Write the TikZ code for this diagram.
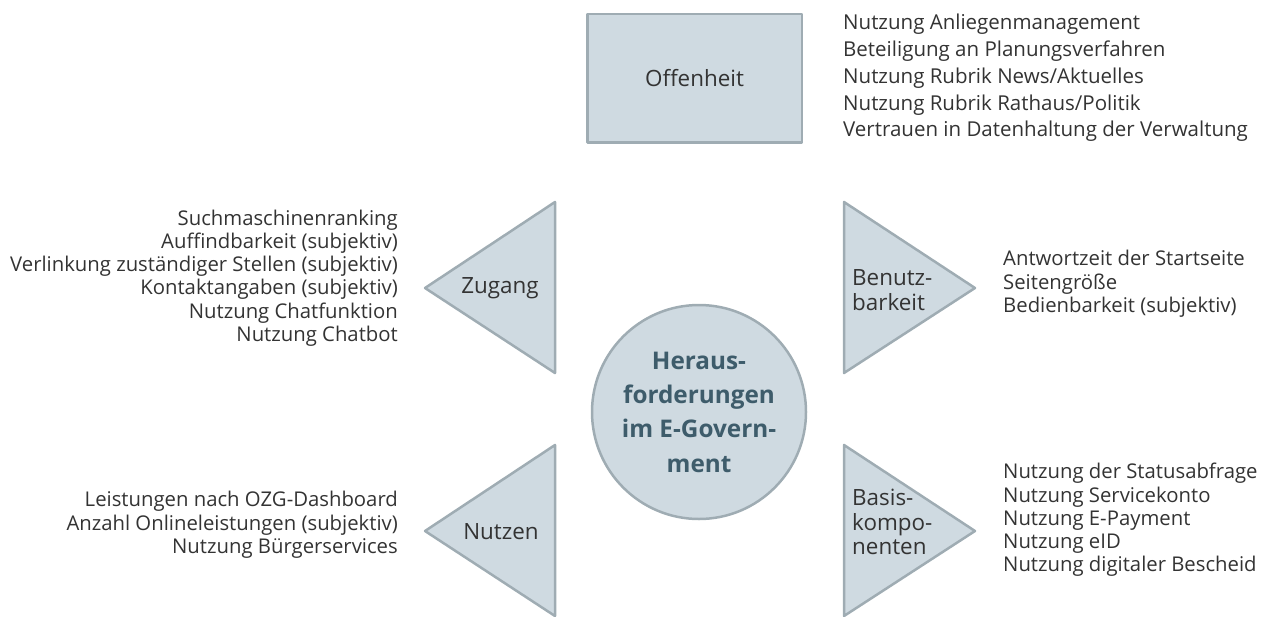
\documentclass[tikz,border=0pt]{standalone}
\usepackage{fontspec}
\setmainfont{Open Sans}
\usepackage{xcolor}
\usetikzlibrary{positioning}
\definecolor{boxfill}{HTML}{CFDAE1}
\definecolor{boxline}{HTML}{9FACB3}
\definecolor{titletext}{HTML}{3E5C6B}
\definecolor{listtext}{HTML}{333333}

\begin{document}
\begin{tikzpicture}[x=1pt, y=-1pt,
    shapebox/.style={fill=boxfill, draw=boxline, line width=2.5pt, line join=round},
    topic/.style={font=\fontsize{22.4}{24.5}\selectfont, text=listtext, inner sep=0pt},
    items/.style={font=\fontsize{20.3}{23.3}\selectfont, text=listtext, inner sep=0pt},
    bigitems/.style={font=\fontsize{20.5}{26.7}\selectfont, text=listtext, inner sep=0pt}]
    \useasboundingbox (0,0) rectangle (1269,616);

    \node (challenge) [shapebox, circle, minimum size=214pt, inner sep=0pt, align=center, text=titletext, font=\fontsize{24.3}{34.3}\selectfont\bfseries] at (699,412) {Heraus-\\forderungen\\im E-Govern-\\ment};
    \node (offen) [shapebox, rectangle, minimum width=214.5pt, minimum height=128.5pt, topic] at (694.5,78) {Offenheit};
    \node (offenlist) [bigitems, align=left, right=40pt of offen] {Nutzung Anliegenmanagement\\Beteiligung an Planungsverfahren\\Nutzung Rubrik News/Aktuelles\\Nutzung Rubrik Rathaus/Politik\\Vertrauen in Datenhaltung der Verwaltung};

    \draw [shapebox] (425,288) coordinate (zugtip) -- (555,202) -- (555,373) -- cycle;
    \draw [shapebox] (425,531) coordinate (nutztip) -- (555,445) -- (555,616) -- cycle;
    \draw [shapebox] (975,288) coordinate (benutip) -- (844,202) -- (844,373) -- cycle;
    \draw [shapebox] (975,531) coordinate (basistip) -- (844,445) -- (844,616) -- cycle;

    \node (zugang) [topic] at (500,288) {Zugang};
    \node (nutzen) [topic] at (501,532) {Nutzen};
    \node (benutz) [topic, align=left, anchor=west] at (852,290) {Benutz-\\barkeit};
    \node (basis) [topic, align=left, anchor=west] at (852,522) {Basis-\\kompo-\\nenten};

    \node (zuglist) [items, align=right, anchor=east] at (398,278) {Suchmaschinenranking\\Auffindbarkeit (subjektiv)\\Verlinkung zuständiger Stellen (subjektiv)\\Kontaktangaben (subjektiv)\\Nutzung Chatfunktion\\Nutzung Chatbot};
    \node (nutzlist) [items, align=right, anchor=east] at (398,525) {Leistungen nach OZG-Dashboard\\Anzahl Onlineleistungen (subjektiv)\\Nutzung Bürgerservices};
    \node (benulist) [items, align=left, anchor=west] at (1003,284) {Antwortzeit der Startseite\\Seitengröße\\Bedienbarkeit (subjektiv)};
    \node (basislist) [items, align=left, anchor=west] at (1003,520) {Nutzung der Statusabfrage\\Nutzung Servicekonto\\Nutzung E-Payment\\Nutzung eID\\Nutzung digitaler Bescheid};
\end{tikzpicture}
\end{document}
